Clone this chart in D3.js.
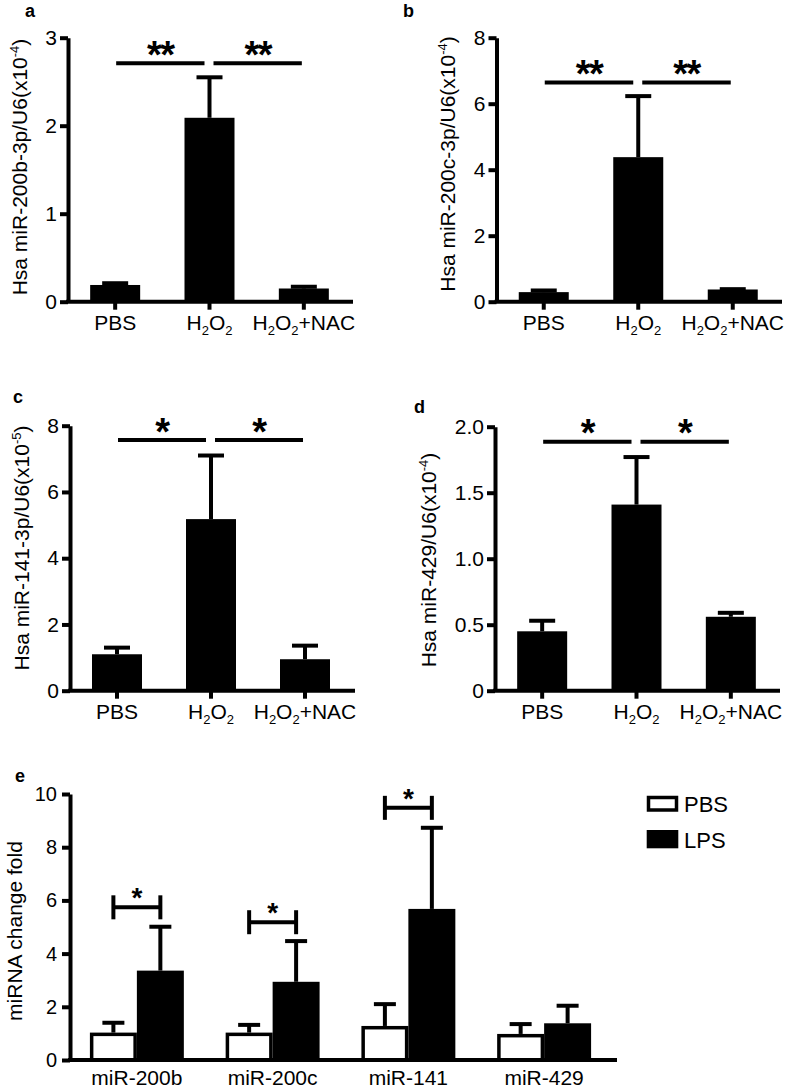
<!DOCTYPE html>
<html><head><meta charset="utf-8">
<script src="https://cdn.jsdelivr.net/npm/d3@7"></script>
<style>
body{margin:0;background:#fff}
svg{display:block}
text{font-family:"Liberation Sans",Arial,Helvetica,sans-serif;fill:#000}
</style>
</head><body>
<svg id="chart" width="796" height="1089"></svg>
<script>
// ---------- data ----------
const treatCats = ["PBS", "H2O2", "H2O2+NAC"];

const aValues = [0.19, 2.09, 0.15];
const aErrors = [0.02, 0.46, 0.02];
const aTicks = [0, 1, 2, 3];
const aTickLabels = ["0", "1", "2", "3"];
const aSig = ["**", "**"];
const aSigLevel = 2.71;

const bValues = [0.29, 4.38, 0.37];
const bErrors = [0.05, 1.85, 0.01];
const bTicks = [0, 2, 4, 6, 8];
const bTickLabels = ["0", "2", "4", "6", "8"];
const bSig = ["**", "**"];
const bSigLevel = 6.64;

const cValues = [1.10, 5.18, 0.95];
const cErrors = [0.20, 1.92, 0.41];
const cTicks = [0, 2, 4, 6, 8];
const cTickLabels = ["0", "2", "4", "6", "8"];
const cSig = ["*", "*"];
const cSigLevel = 7.57;

const dValues = [0.45, 1.41, 0.56];
const dErrors = [0.08, 0.36, 0.03];
const dTicks = [0, 0.5, 1.0, 1.5, 2.0];
const dTickLabels = ["0", "0.5", "1.0", "1.5", "2.0"];
const dSig = ["*", "*"];
const dSigLevel = 1.886;

const eCats = ["miR-200b", "miR-200c", "miR-141", "miR-429"];
const eSeries = ["PBS", "LPS"];
const ePBS = [1.03, 1.03, 1.28, 0.98];
const ePBSErr = [0.37, 0.29, 0.82, 0.37];
const eLPS = [3.36, 2.94, 5.68, 1.38];
const eLPSErr = [1.65, 1.53, 3.05, 0.66];
const eSigLevel = [5.74, 5.18, 9.48, null];
const eSig = ["*", "*", "*", ""];
const eTicks = [0, 2, 4, 6, 8, 10];
const eTickLabels = ["0", "2", "4", "6", "8", "10"];

// ---------- drawing ----------
const svg = d3.select("#chart");
svg.append("rect").attr("width", 796).attr("height", 1089).attr("fill", "#fff");

function chemText(sel, str) {
  const parts = str.split(/(\d)/).filter(p => p !== "");
  let sub = false;
  parts.forEach(p => {
    if (/^\d$/.test(p)) {
      sel.append("tspan").attr("font-size", 13).attr("dy", 5).text(p);
      sub = true;
    } else {
      sel.append("tspan").attr("dy", sub ? -5 : 0).text(p);
      sub = false;
    }
  });
}

function styleAxis(g) {
  g.selectAll("path, line").attr("stroke", "#000").attr("stroke-width", 4);
}

const STAR = 38;

function panel(cfg) {
  const g = svg.append("g");
  const y = d3.scaleLinear().domain([0, cfg.max]).range([cfg.bottom, cfg.top]);
  const x = d3.scaleBand().domain(treatCats).range(cfg.band).paddingInner(0).paddingOuter(0);
  const cx = c => x(c) + x.bandwidth() / 2;

  g.selectAll("rect.bar").data(treatCats).join("rect")
    .attr("x", c => cx(c) - 25).attr("width", 50)
    .attr("y", (c, i) => y(cfg.values[i]))
    .attr("height", (c, i) => cfg.bottom - y(cfg.values[i]))
    .attr("fill", "#000");

  treatCats.forEach((c, i) => {
    const top = y(cfg.values[i] + cfg.errors[i]);
    g.append("line").attr("x1", cx(c)).attr("x2", cx(c))
      .attr("y1", y(cfg.values[i])).attr("y2", top)
      .attr("stroke", "#000").attr("stroke-width", 4);
    g.append("line").attr("x1", cx(c) - 13).attr("x2", cx(c) + 13)
      .attr("y1", top).attr("y2", top)
      .attr("stroke", "#000").attr("stroke-width", 4);
  });

  const ya = g.append("g").attr("transform", `translate(${cfg.x0},0)`)
    .call(d3.axisLeft(y).tickValues(cfg.ticks)
      .tickFormat((d, i) => cfg.tickLabels[i]).tickSize(8).tickSizeOuter(0).tickPadding(3));
  styleAxis(ya);
  ya.selectAll("text").attr("font-size", 21).attr("fill", "#000");

  const xa = g.append("g").attr("transform", `translate(0,${cfg.bottom})`)
    .call(d3.axisBottom(x).tickFormat("").tickSize(8).tickSizeOuter(0));
  xa.select("path.domain").remove();
  styleAxis(xa);
  g.append("line").attr("x1", cfg.x0 - 2).attr("x2", cfg.x1)
    .attr("y1", cfg.bottom).attr("y2", cfg.bottom)
    .attr("stroke", "#000").attr("stroke-width", 4);

  treatCats.forEach(c => {
    const t = g.append("text").attr("x", cx(c)).attr("y", cfg.bottom + 28)
      .attr("text-anchor", "middle").attr("font-size", 21);
    chemText(t, c);
  });

  const ly = y(cfg.sigLevel);
  const c0 = cx(treatCats[0]), c1 = cx(treatCats[1]), c2 = cx(treatCats[2]);
  const segs = [[c0 + 1, c1 - 5], [c1 + 4, c2 - 2]];
  segs.forEach((s, i) => {
    g.append("line").attr("x1", s[0]).attr("x2", s[1]).attr("y1", ly).attr("y2", ly)
      .attr("stroke", "#000").attr("stroke-width", 4);
    g.append("text").attr("x", (s[0] + s[1]) / 2).attr("y", ly - 17 + 0.57 * STAR)
      .attr("text-anchor", "middle").attr("font-size", STAR).attr("font-weight", "bold")
      .attr("letter-spacing", -1.5)
      .text(cfg.sig[i]);
  });

  const yl = g.append("text")
    .attr("transform", `translate(${cfg.ylx},${cfg.yly}) rotate(-90)`)
    .attr("text-anchor", "middle").attr("font-size", 21);
  yl.append("tspan").text(cfg.ylabel);
  yl.append("tspan").attr("font-size", 13).attr("dy", -8).text(cfg.ysup);
  yl.append("tspan").attr("dy", 8).text(")");

  g.append("text").attr("x", cfg.lx).attr("y", cfg.ly)
    .attr("font-size", 18).attr("font-weight", "bold").text(cfg.letter);
}

panel({x0: 68, x1: 353, band: [68, 351], top: 37.7, bottom: 301.7, max: 3,
  ticks: aTicks, tickLabels: aTickLabels, values: aValues, errors: aErrors,
  sig: aSig, sigLevel: aSigLevel, ylabel: "Hsa miR-200b-3p/U6(x10", ysup: "-4",
  ylx: 27, yly: 167, letter: "a", lx: 25, ly: 17});

panel({x0: 496.5, x1: 782, band: [496.5, 780], top: 37.7, bottom: 301.7, max: 8,
  ticks: bTicks, tickLabels: bTickLabels, values: bValues, errors: bErrors,
  sig: bSig, sigLevel: bSigLevel, ylabel: "Hsa miR-200c-3p/U6(x10", ysup: "-4",
  ylx: 455, yly: 164, letter: "b", lx: 403, ly: 17});

panel({x0: 70, x1: 355, band: [70, 352], top: 425.7, bottom: 690.7, max: 8,
  ticks: cTicks, tickLabels: cTickLabels, values: cValues, errors: cErrors,
  sig: cSig, sigLevel: cSigLevel, ylabel: "Hsa miR-141-3p/U6(x10", ysup: "-5",
  ylx: 28.5, yly: 548, letter: "c", lx: 13, ly: 403});

panel({x0: 495, x1: 780, band: [495, 778], top: 426.7, bottom: 690.7, max: 2,
  ticks: dTicks, tickLabels: dTickLabels, values: dValues, errors: dErrors,
  sig: dSig, sigLevel: dSigLevel, ylabel: "Hsa miR-429/U6(x10", ysup: "-4",
  ylx: 435.5, yly: 560, letter: "d", lx: 414, ly: 413});

// ---------- panel e ----------
(function () {
  const g = svg.append("g");
  const top = 794, bottom = 1060, x0 = 70, x1end = 617;
  const y = d3.scaleLinear().domain([0, 10]).range([bottom, top]);
  const x = d3.scaleBand().domain(eCats).range([69, 612]).paddingInner(0.308).paddingOuter(0.154);
  const xs = d3.scaleBand().domain(eSeries).range([0, x.bandwidth()]);
  const vals = {PBS: ePBS, LPS: eLPS};
  const errs = {PBS: ePBSErr, LPS: eLPSErr};
  const ESTAR = 28;

  eCats.forEach((c, i) => {
    eSeries.forEach(s => {
      const bx = x(c) + xs(s);
      const w = xs.bandwidth();
      const v = vals[s][i];
      const center = bx + w / 2;
      const et = y(v + errs[s][i]);
      g.append("line").attr("x1", center).attr("x2", center)
        .attr("y1", y(v)).attr("y2", et).attr("stroke", "#000").attr("stroke-width", 4);
      g.append("line").attr("x1", center - 11).attr("x2", center + 11)
        .attr("y1", et).attr("y2", et).attr("stroke", "#000").attr("stroke-width", 4);
      if (s === "PBS") {
        g.append("rect").attr("x", bx + 1.75).attr("width", w - 3.5)
          .attr("y", y(v) + 1.75).attr("height", bottom - y(v) - 1.75)
          .attr("fill", "#fff").attr("stroke", "#000").attr("stroke-width", 3.5);
      } else {
        g.append("rect").attr("x", bx).attr("width", w)
          .attr("y", y(v)).attr("height", bottom - y(v)).attr("fill", "#000");
      }
    });
    if (eSigLevel[i] !== null) {
      const by = y(eSigLevel[i]);
      const l = x(c) + xs("PBS") + xs.bandwidth() / 2;
      const r = x(c) + xs("LPS") + xs.bandwidth() / 2;
      g.append("line").attr("x1", l).attr("x2", r).attr("y1", by).attr("y2", by)
        .attr("stroke", "#000").attr("stroke-width", 4);
      [l, r].forEach(px => g.append("line").attr("x1", px).attr("x2", px)
        .attr("y1", by - 12).attr("y2", by + 12).attr("stroke", "#000").attr("stroke-width", 4));
      g.append("text").attr("x", (l + r) / 2).attr("y", by - 16 + 0.57 * ESTAR)
        .attr("text-anchor", "middle").attr("font-size", ESTAR).attr("font-weight", "bold")
        .text(eSig[i]);
    }
    g.append("text").attr("x", x(c) + x.bandwidth() / 2).attr("y", bottom + 25)
      .attr("text-anchor", "middle").attr("font-size", 21).text(c);
  });

  const ya = g.append("g").attr("transform", `translate(${x0},0)`)
    .call(d3.axisLeft(y).tickValues(eTicks).tickFormat((d, i) => eTickLabels[i])
      .tickSize(8).tickSizeOuter(0).tickPadding(5));
  styleAxis(ya);
  ya.selectAll("text").attr("font-size", 20).attr("fill", "#000");
  g.append("line").attr("x1", x0 - 2).attr("x2", x1end).attr("y1", bottom).attr("y2", bottom)
    .attr("stroke", "#000").attr("stroke-width", 4);

  g.append("text").attr("transform", `translate(21.5,931) rotate(-90)`)
    .attr("text-anchor", "middle").attr("font-size", 21).text("miRNA change fold");
  g.append("text").attr("x", 15).attr("y", 782).attr("font-size", 18)
    .attr("font-weight", "bold").text("e");

  const lg = g.append("g");
  eSeries.forEach((s, i) => {
    const ry = [797.5, 830][i];
    if (s === "PBS") {
      lg.append("rect").attr("x", 648.5).attr("y", ry).attr("width", 28).attr("height", 12.5)
        .attr("fill", "#fff").attr("stroke", "#000").attr("stroke-width", 3.5);
    } else {
      lg.append("rect").attr("x", 646.7).attr("y", ry).attr("width", 31.6).attr("height", 18.3)
        .attr("fill", "#000");
    }
    lg.append("text").attr("x", 684).attr("y", [811.5, 848][i]).attr("font-size", 22).text(s);
  });
})();
</script>
</body></html>
